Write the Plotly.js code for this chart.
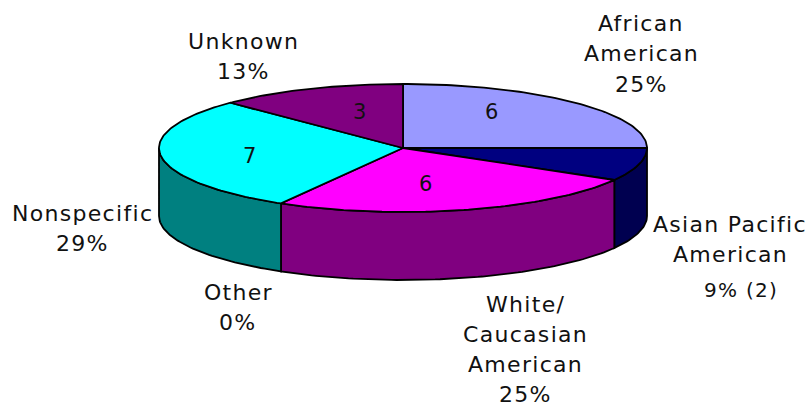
<!DOCTYPE html>
<html><head><meta charset="utf-8">
<script src="https://cdn.plot.ly/plotly-3.0.1.min.js"></script>
<style>html,body{margin:0;padding:0;background:#fff}#c{width:812px;height:409px}.annotation-text{letter-spacing:1.3px}</style>
</head><body><div id="c"></div>
<script>
const categories=["African American","Asian Pacific American","White/Caucasian American","Other","Nonspecific","Unknown"];
const values=[6,2,6,0,7,3];
const topColors=["#9999FF","#000080","#FF00FF","#FFFFCC","#00FFFF","#800080"];
const sideColors=["#6666AA","#000050","#800080","#888866","#008080","#500050"];
const labelLines=[
 ["African","American","25%"],
 ["Asian Pacific","American"],
 ["White/","Caucasian","American","25%"],
 ["Other","0%"],
 ["Nonspecific","29%"],
 ["Unknown","13%"]];
const extraLabel="9% (2)";

// layout of the drawing (pixel-scaled axes)
const cx=403,cy=148,rx=244,ry=64,depth=68;
const labelX=[641,730,525,238,82,243];
const labelY=[[23,53,84],[224,254],[304,334,364,394],[292,322],[213,243],[41,71]];
const extraPos=[741,290];
const valuePos=[[492,112],null,[426,184],null,[250,156],[360,112]];

const total=values.reduce((a,b)=>a+b,0);
const px=a=>cx+rx*Math.sin(a), py=a=>cy-ry*Math.cos(a);
const outline={color:"#000",width:1.8};
function range(a0,a1){const n=Math.max(2,Math.ceil((a1-a0)/0.02));const o=[];for(let i=0;i<=n;i++)o.push(a0+(a1-a0)*i/n);return o;}

const sides=[],tops=[],notes=[];
let run=0;
values.forEach((v,i)=>{
  const a0=run/total*2*Math.PI; run+=v;
  const a1=run/total*2*Math.PI;
  if(v>0){
    const arc=range(a0,a1);
    tops.push({type:"scatter",mode:"lines",fill:"toself",fillcolor:topColors[i],line:outline,hoverinfo:"text",text:categories[i],
      x:[cx,...arc.map(px),cx],y:[cy,...arc.map(py),cy]});
    // the visible wall is the part of the rim on the near half of the ellipse
    const s0=Math.max(a0,Math.PI/2), s1=Math.min(a1,1.5*Math.PI);
    if(s1>s0){
      const w=range(s0,s1);
      sides.push({type:"scatter",mode:"lines",fill:"toself",fillcolor:sideColors[i],line:outline,hoverinfo:"text",text:categories[i],
        x:[...w.map(px),...w.slice().reverse().map(px),px(s0)],
        y:[...w.map(py),...w.slice().reverse().map(a=>py(a)+depth),py(s0)]});
    }
  }
  labelLines[i].forEach((t,k)=>notes.push({x:labelX[i],y:labelY[i][k],text:t}));
  if(valuePos[i]) notes.push({x:valuePos[i][0],y:valuePos[i][1],text:String(v),digit:true});
});
notes.push({x:extraPos[0],y:extraPos[1],text:extraLabel,tiny:true});

const layout={
  width:812,height:409,margin:{l:0,r:0,t:0,b:0},showlegend:false,
  paper_bgcolor:"#fff",plot_bgcolor:"#fff",
  xaxis:{range:[0,812],visible:false,fixedrange:true},
  yaxis:{range:[409,0],visible:false,fixedrange:true},
  annotations:notes.map(n=>({x:n.x,y:n.y,xref:"x",yref:"y",text:n.text,showarrow:false,xanchor:"center",yanchor:"middle",
    font:{family:"DejaVu Sans, Verdana, sans-serif",size:n.tiny?20:n.digit?21:22,color:"#111"}}))
};
Plotly.newPlot("c",[...sides,...tops],layout,{displayModeBar:false});
</script></body></html>
